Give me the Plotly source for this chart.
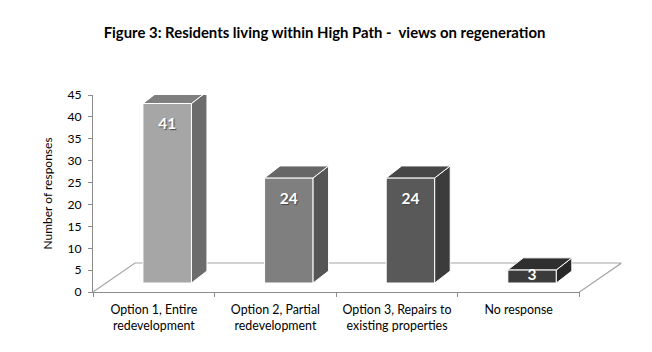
import plotly.graph_objects as go

categories = ["Option 1, Entire<br>redevelopment", "Option 2, Partial<br>redevelopment",
              "Option 3, Repairs to<br>existing properties", "No response"]
values = [41, 24, 24, 3]
front_colors = ["#a6a6a6", "#7f7f7f", "#595959", "#3b3b3b"]
side_colors = ["#6c6c6c", "#555555", "#3c3c3c", "#282828"]
top_colors = ["#7f7f7f", "#666666", "#474747", "#2f2f2f"]

PAGE = 8                             # default page margin of the browser
W, H = 652 - 2 * PAGE, 352 - 2 * PAGE
X0, X1, XF = 93.0 - PAGE, 579.5 - PAGE, 621.5 - PAGE   # plot left, axis end, floor end (px)
Y0, Y45 = 292.0 - PAGE, 95.0 - PAGE                    # y px of value 0 and value 45
UX = (X1 - X0) / 4
UY = (Y0 - Y45) / 45

base = 9 / UY
bar_w = 48.5 / UX
bar_off = 13.4 / UX
dx, dy = 15.5 / UX, 12 / UY
floor_dx, floor_dy = (XF - X1) / UX, 29 / UY

fig = go.Figure()

# invisible trace that gives the category axis its categories
fig.add_trace(go.Scatter(x=categories, y=values, mode="markers", marker=dict(opacity=0),
                         xaxis="x", yaxis="y", showlegend=False, hoverinfo="skip"))

xc = [i + bar_off for i in range(len(values))]

fig.add_trace(go.Bar(x=xc, y=values, base=base, width=bar_w, xaxis="x2", yaxis="y",
                     marker=dict(color=front_colors, line=dict(color="white", width=1)),
                     cliponaxis=False, showlegend=False, hoverinfo="skip"))

for x, v, sc, tc in zip(xc, values, side_colors, top_colors):
    l, r = x - bar_w / 2, x + bar_w / 2
    b, t = base, base + v
    fig.add_trace(go.Scatter(x=[r, r + dx, r + dx, r, r], y=[b, b + dy, t + dy, t, b],
                             mode="lines", fill="toself", fillcolor=sc,
                             line=dict(color="white", width=1), xaxis="x2", yaxis="y",
                             cliponaxis=False, showlegend=False, hoverinfo="skip"))
    fig.add_trace(go.Scatter(x=[l, l + dx, r + dx, r, l], y=[t, t + dy, t + dy, t, t],
                             mode="lines", fill="toself", fillcolor=tc,
                             line=dict(color="white", width=1), xaxis="x2", yaxis="y",
                             cliponaxis=False, showlegend=False, hoverinfo="skip"))

fig.add_trace(go.Scatter(x=xc, y=[base + v - min(5.0, v / 2) for v in values],
                         mode="text", text=[str(v) for v in values],
                         textposition="middle center",
                         textfont=dict(family="Lato", size=15.5, color="white", weight="bold",
                                       shadow="1px 1px 1px #444"),
                         xaxis="x2", yaxis="y", cliponaxis=False, showlegend=False, hoverinfo="skip"))

fl = -0.5
fr = 3.5
floor_path = (f"M {fl} 0 L {fl + floor_dx} {floor_dy} L {fr + floor_dx} {floor_dy} L {fr} 0")

fig.update_layout(
    width=W, height=H, margin=dict(l=0, r=0, t=0, b=0), autosize=False,
    paper_bgcolor="white", plot_bgcolor="rgba(0,0,0,0)",
    font=dict(family="Lato", size=12, color="#000000"),
    showlegend=False,
    title=dict(text="<b>Figure 3: Residents living within High Path -  views on regeneration</b>",
               x=(324.5 - PAGE) / W, xanchor="center", y=1 - (33 - PAGE) / H, yanchor="middle",
               font=dict(family="Lato", size=14.9, color="#000000")),
    xaxis=dict(type="category", categoryorder="array", categoryarray=categories,
               domain=[X0 / W, X1 / W], range=[-0.5, 3.5], tickson="boundaries",
               ticks="outside", ticklen=4, tickcolor="#8c8c8c", tickwidth=1,
               showline=True, linecolor="#8c8c8c", linewidth=1, showgrid=False,
               zeroline=False, tickangle=0, anchor="y", tickfont=dict(size=12.4),
               ticklabelstandoff=6, automargin=False),
    xaxis2=dict(domain=[X0 / W, XF / W], range=[-0.5, 3.5 + floor_dx], visible=False,
                anchor="y", overlaying=None),
    yaxis=dict(domain=[1 - Y0 / H, 1 - Y45 / H], range=[0, 45], tickmode="linear", tick0=0, dtick=5,
               ticks="outside", ticklen=4, tickcolor="#8c8c8c", tickwidth=1,
               showline=True, linecolor="#8c8c8c", linewidth=1, showgrid=False, zeroline=False,
               anchor="x", tickfont=dict(size=12.2), ticklabelstandoff=4, automargin=False,
               title=dict(text="Number of responses", standoff=12, font=dict(size=12))),
    shapes=[dict(type="path", path=floor_path, xref="x2", yref="y", layer="below",
                 line=dict(color="#a6a6a6", width=1.2))],
)

fig.write_html("out.html")
